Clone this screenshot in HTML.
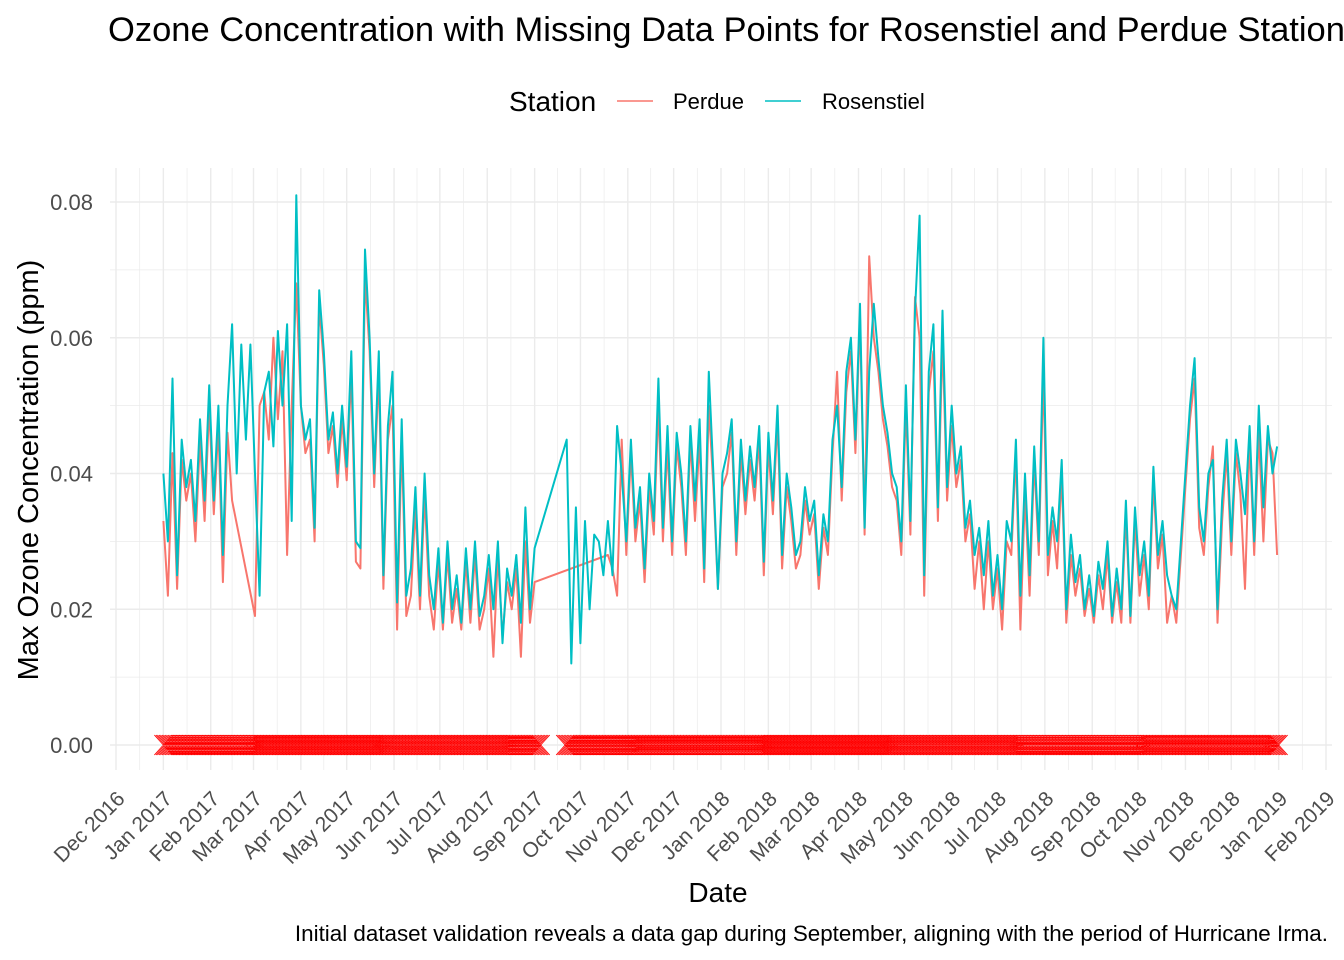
<!DOCTYPE html>
<html><head><meta charset="utf-8">
<style>
body{margin:0;background:#fff;}
svg{display:block;font-family:"Liberation Sans",Arial,sans-serif;}
</style></head>
<body>
<svg id="chart" width="1344" height="960" viewBox="0 0 1344 960">
<g id="grid"></g>
<g id="markers"></g>
<g id="series"></g>
<g id="axes"></g>
<text x="108" y="41" font-size="34.5" fill="#000">Ozone Concentration with Missing Data Points for Rosenstiel and Perdue Stations</text>
<g>
<text x="509" y="111" font-size="28" fill="#000">Station</text>
<line x1="617" y1="101" x2="653" y2="101" stroke="#F8766D" stroke-width="1.6"/>
<text x="673" y="109" font-size="22" fill="#000">Perdue</text>
<line x1="765" y1="101" x2="801" y2="101" stroke="#00BFC4" stroke-width="1.6"/>
<text x="822" y="109" font-size="22" fill="#000">Rosenstiel</text>
</g>
<text transform="translate(38,470) rotate(-90)" text-anchor="middle" font-size="29" fill="#000">Max Ozone Concentration (ppm)</text>
<text x="718" y="902" text-anchor="middle" font-size="28" fill="#000">Date</text>
<text x="1328" y="941" text-anchor="end" font-size="22.4" fill="#000">Initial dataset validation reveals a data gap during September, aligning with the period of Hurricane Irma.</text>
</svg>
<script>
// data: one value every 3 days starting 2017-01-01
const stepDays = 3;
const rosenstiel = [
0.040,0.030,0.054,0.025,0.045,0.038,0.042,0.033,0.048,0.036,
0.053,0.036,0.050,0.028,0.050,0.062,0.040,0.059,0.045,0.059,
0.040,0.022,0.052,0.055,0.044,0.061,0.050,0.062,0.033,0.081,
0.050,0.045,0.048,0.032,0.067,0.058,0.045,0.049,0.040,0.050,
0.041,0.058,0.030,0.029,0.073,0.060,0.040,0.058,0.025,0.047,
0.055,0.021,0.048,0.022,0.026,0.038,0.022,0.040,0.025,0.020,
0.029,0.018,0.030,0.020,0.025,0.018,0.029,0.020,0.030,0.019,
0.022,0.028,0.020,0.030,0.015,0.026,0.022,0.028,0.018,0.035,
0.020,0.029,null,null,null,null,null,null,0.045,0.012,
0.035,0.015,0.033,0.020,0.031,0.030,0.025,0.033,0.025,0.047,
0.040,0.030,0.045,0.032,0.038,0.026,0.040,0.033,0.054,0.032,
0.047,0.030,0.046,0.040,0.030,0.047,0.036,0.048,0.026,0.055,
0.040,0.023,0.040,0.043,0.048,0.030,0.045,0.036,0.044,0.038,
0.047,0.027,0.046,0.036,0.050,0.028,0.040,0.035,0.028,0.030,
0.038,0.033,0.036,0.025,0.034,0.030,0.045,0.050,0.038,0.055,
0.060,0.045,0.065,0.032,0.055,0.065,0.057,0.050,0.046,0.040,
0.038,0.030,0.053,0.033,0.064,0.078,0.025,0.055,0.062,0.035,
0.064,0.038,0.050,0.040,0.044,0.032,0.036,0.028,0.032,0.025,
0.033,0.022,0.028,0.020,0.033,0.030,0.045,0.022,0.040,0.025,
0.044,0.030,0.060,0.028,0.035,0.030,0.042,0.020,0.031,0.024,
0.028,0.020,0.025,0.019,0.027,0.023,0.030,0.019,0.026,0.020,
0.036,0.019,0.035,0.025,0.030,0.022,0.041,0.028,0.033,0.025,
0.022,0.020,0.030,0.040,0.050,0.057,0.035,0.030,0.040,0.042,
0.020,0.036,0.045,0.030,0.045,0.040,0.034,0.047,0.030,0.050,
0.035,0.047,0.040,0.044];
const perdue = [
0.033,0.022,0.043,0.023,0.042,0.036,0.040,0.030,0.045,0.033,
0.050,0.034,0.047,0.024,0.046,0.036,null,null,null,null,
0.019,0.050,0.052,0.045,0.060,0.048,0.058,0.028,0.050,0.068,
0.050,0.043,0.045,0.030,0.065,0.056,0.043,0.047,0.038,0.048,
0.039,0.055,0.027,0.026,0.069,0.058,0.038,0.055,0.023,0.045,
0.050,0.017,0.045,0.019,0.022,0.035,0.020,0.037,0.022,0.017,
0.027,0.017,0.028,0.018,0.023,0.017,0.027,0.018,0.028,0.017,
0.020,0.026,0.013,0.028,0.016,0.024,0.020,0.026,0.013,0.030,
0.018,0.024,null,null,null,null,null,null,null,null,
null,null,null,null,null,null,null,0.028,0.026,0.022,
0.045,0.028,0.043,0.030,0.036,0.024,0.038,0.031,0.050,0.030,
0.044,0.028,0.044,0.038,0.028,0.045,0.033,0.045,0.024,0.050,
0.038,0.023,0.038,0.040,0.046,0.028,0.043,0.034,0.042,0.036,
0.045,0.025,0.044,0.034,0.048,0.026,0.038,0.033,0.026,0.028,
0.036,0.031,0.034,0.023,0.032,0.028,0.043,0.055,0.036,0.052,
0.058,0.043,0.063,0.031,0.072,0.060,0.055,0.048,0.044,0.038,
0.036,0.028,0.050,0.031,0.066,0.060,0.022,0.052,0.058,0.033,
0.060,0.036,0.047,0.038,0.042,0.030,0.034,0.023,0.030,0.020,
0.030,0.020,0.026,0.017,0.030,0.028,0.043,0.017,0.037,0.022,
0.042,0.028,0.055,0.025,0.033,0.026,0.040,0.018,0.028,0.022,
0.026,0.019,0.023,0.018,0.025,0.020,0.028,0.018,0.024,0.018,
0.034,0.018,0.033,0.022,0.028,0.020,0.039,0.026,0.031,0.018,
0.022,0.018,0.028,0.038,0.048,0.054,0.032,0.028,0.038,0.044,
0.018,0.033,0.043,0.028,0.043,0.037,0.023,0.045,0.028,0.046,
0.030,0.045,0.043,0.028];
// missing-data marker day ranges (days since 2017-01-01, inclusive)
const markerStart = [0, 263];
const markerEnd = [247, 730];
const yTicks = [0, 0.02, 0.04, 0.06, 0.08];
const yTickLabels = ["0.00","0.02","0.04","0.06","0.08"];
const monthNames = ["Jan","Feb","Mar","Apr","May","Jun","Jul","Aug","Sep","Oct","Nov","Dec"];

const NS = "http://www.w3.org/2000/svg";
const base = Date.UTC(2017,0,1);
const dayOf = (y,m,d)=> (Date.UTC(y,m,d||1)-base)/86400000;
const x0 = 116, d0 = dayOf(2016,11,1), k = 1210/ (dayOf(2019,1,1)-d0);
const X = d => x0 + (d-d0)*k;
const Y = v => 745 - v*6787.5;
const PL = 110, PR = 1332, PT = 168, PB = 770;
function mk(tag, attrs, parent){const e=document.createElementNS(NS,tag);for(const a in attrs)e.setAttribute(a,attrs[a]);parent.appendChild(e);return e;}

const grid = document.getElementById('grid');
const axes = document.getElementById('axes');
for(let v=0; v<=0.0851; v+=0.01){
  const major = Math.round(v*100)%2===0;
  const l = mk('line',{x1:PL,x2:PR,y1:Y(v),y2:Y(v),stroke:'#ebebeb','stroke-width':major?1.4:0.7},grid);
  
  
}
yTicks.forEach((v,i)=>{
  const t = mk('text',{x:93,y:Y(v)+8,'text-anchor':'end','font-size':22,fill:'#4d4d4d'},axes);
  t.textContent = yTickLabels[i];
  
  
});
for(let i=0;i<=26;i++){
  const yr = 2016 + Math.floor((11+i)/12), m = (11+i)%12;
  const d = dayOf(yr,m,1);
  const xm = X(d);
  const l = mk('line',{x1:xm,x2:xm,y1:PT,y2:PB,stroke:'#ebebeb','stroke-width':1.4},grid);
  
  
  if(i<26){
    const yr2 = 2016 + Math.floor((12+i)/12), m2=(12+i)%12;
    const xn = X(dayOf(yr2,m2,1));
    const mx=(xm+xn)/2;
    const l2 = mk('line',{x1:mx,x2:mx,y1:PT,y2:PB,stroke:'#ebebeb','stroke-width':0.7},grid);
    
    
  }
  const t = mk('text',{transform:`translate(${xm+10},${800}) rotate(-45)`,'text-anchor':'end','font-size':21,fill:'#4d4d4d'},axes);
  t.textContent = monthNames[m]+' '+yr;
  
  
}
const mg = document.getElementById('markers');
let md = '';
markerStart.forEach((s,i)=>{
  for(let d=s; d<=markerEnd[i]; d++){
    const cx=X(d), cy=Y(0);
    md += `M${cx-9},${cy-10}L${cx+9},${cy+10}M${cx-9},${cy+10}L${cx+9},${cy-10}`;
  }
});
const mp = mk('path',{d:md,stroke:'#ff0000','stroke-width':0.9,fill:'none'},mg);


const sg = document.getElementById('series');
function drawSeries(vals,color,name){
  let p='';
  vals.forEach((v,i)=>{ if(v===null) return; p += (p?'L':'M')+X(i*stepDays).toFixed(1)+','+Y(v).toFixed(1); });
  const e = mk('path',{d:p,stroke:color,'stroke-width':2,fill:'none','stroke-linejoin':'round'},sg);
  
  
}
drawSeries(perdue,'#F8766D','perdue-line');
drawSeries(rosenstiel,'#00BFC4','rosenstiel-line');
</script>
</body></html>
